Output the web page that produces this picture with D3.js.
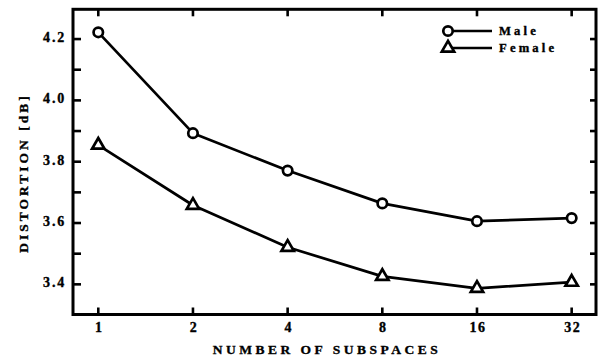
<!DOCTYPE html>
<html>
<head>
<meta charset="utf-8">
<script src="https://cdn.jsdelivr.net/npm/d3@7"></script>
<style>
  html, body { margin: 0; padding: 0; background: #fff; }
  svg { display: block; }
  text { font-family: "Liberation Serif", "Times New Roman", serif; font-weight: bold; fill: #000; stroke: #000; stroke-width: 0.35px; }
</style>
</head>
<body>
<svg id="chart" width="600" height="361"></svg>
<script>
// Subspace counts on the x axis (log2 spaced)
const subspaces = [1, 2, 4, 8, 16, 32];
// Distortion in dB per speaker group
const male   = [4.222, 3.893, 3.771, 3.664, 3.606, 3.616];
const female = [3.854, 3.658, 3.521, 3.426, 3.387, 3.407];
const seriesNames = ["Male", "Female"];
const yMajorTicks = [3.4, 3.6, 3.8, 4.0, 4.2];
const yMinorTicks = [3.5, 3.7, 3.9, 4.1];

const svg = d3.select("#chart");
const plotLeft = 73, plotRight = 596, plotTop = 9.3, plotBottom = 314.5;

const x = d3.scaleLinear()
  .domain([-0.267, 5.257])
  .range([plotLeft, plotRight]);
const xPos = v => x(Math.log2(v));

const y = d3.scaleLinear()
  .domain([3.3, 4.3])
  .range([315, 8.4]);

// Frame
svg.append("rect")
  .attr("x", plotLeft).attr("y", plotTop)
  .attr("width", plotRight - plotLeft).attr("height", plotBottom - plotTop)
  .attr("fill", "none").attr("stroke", "#000").attr("stroke-width", 3);

const tickStyle = sel => sel.attr("stroke", "#000").attr("stroke-width", 2.6);

// Left and right ticks (inward)
const yAll = yMajorTicks.concat(yMinorTicks);
svg.append("g").selectAll("line").data(yAll).join("line")
  .attr("x1", plotLeft).attr("x2", plotLeft + 8)
  .attr("y1", d => y(d)).attr("y2", d => y(d)).call(tickStyle);
svg.append("g").selectAll("line").data(yAll).join("line")
  .attr("x1", plotRight).attr("x2", plotRight - 6)
  .attr("y1", d => y(d)).attr("y2", d => y(d)).call(tickStyle);

// Top and bottom ticks (inward)
svg.append("g").selectAll("line").data(subspaces).join("line")
  .attr("x1", d => xPos(d)).attr("x2", d => xPos(d))
  .attr("y1", plotBottom).attr("y2", plotBottom - 7).call(tickStyle);
svg.append("g").selectAll("line").data(subspaces).join("line")
  .attr("x1", d => xPos(d)).attr("x2", d => xPos(d))
  .attr("y1", plotTop).attr("y2", plotTop + 7).call(tickStyle);

// Y tick labels
svg.append("g").selectAll("text").data(yMajorTicks).join("text")
  .attr("x", 66).attr("y", d => y(d) + 3)
  .attr("text-anchor", "end")
  .attr("font-size", 14)
  .attr("letter-spacing", 1.8)
  .text(d => d.toFixed(1));

// X tick labels
svg.append("g").selectAll("text").data(subspaces).join("text")
  .attr("x", d => xPos(d) + 1).attr("y", 332)
  .attr("text-anchor", "middle")
  .attr("font-size", 14)
  .attr("letter-spacing", 1.5)
  .text(d => d);

// Axis titles
svg.append("text")
  .attr("x", 327).attr("y", 354)
  .attr("text-anchor", "middle")
  .attr("font-size", 13.5)
  .attr("letter-spacing", 3.5)
  .text("NUMBER OF SUBSPACES");

svg.append("text")
  .attr("transform", "translate(28,173) rotate(-90)")
  .attr("text-anchor", "middle")
  .attr("font-size", 13.5)
  .attr("letter-spacing", 3)
  .text("DISTORTION [dB]");

// Series lines
const line = d3.line()
  .x((d, i) => xPos(subspaces[i]))
  .y(d => y(d));

[male, female].forEach(vals => {
  svg.append("path")
    .datum(vals)
    .attr("d", line)
    .attr("fill", "none")
    .attr("stroke", "#000")
    .attr("stroke-width", 2.7)
    .attr("stroke-linejoin", "round");
});

const circleSym = d3.symbol().type(d3.symbolCircle).size(70);
const triSym = d3.symbol().type(d3.symbolTriangle).size(66);

const drawMarkers = (vals, sym) => {
  svg.append("g").selectAll("path").data(vals).join("path")
    .attr("d", sym)
    .attr("transform", (d, i) => `translate(${xPos(subspaces[i])},${y(d)})`)
    .attr("fill", "#fff")
    .attr("stroke", "#000")
    .attr("stroke-width", 2.7);
};
drawMarkers(male, circleSym);
drawMarkers(female, triSym);

// Legend
const legend = svg.append("g");
const legendRows = [
  { name: seriesNames[0], sym: circleSym, yy: 31 },
  { name: seriesNames[1], sym: triSym, yy: 48 }
];
legendRows.forEach(r => {
  legend.append("line")
    .attr("x1", 452).attr("x2", 492)
    .attr("y1", r.yy).attr("y2", r.yy)
    .attr("stroke", "#000").attr("stroke-width", 2.7);
  legend.append("path")
    .attr("d", r.sym)
    .attr("transform", `translate(448,${r.yy})`)
    .attr("fill", "#fff").attr("stroke", "#000").attr("stroke-width", 2.7);
  legend.append("text")
    .attr("x", 499).attr("y", r.yy + 4)
    .attr("font-size", 12.6)
    .attr("letter-spacing", 3.2)
    .text(r.name);
});
</script>
</body>
</html>
